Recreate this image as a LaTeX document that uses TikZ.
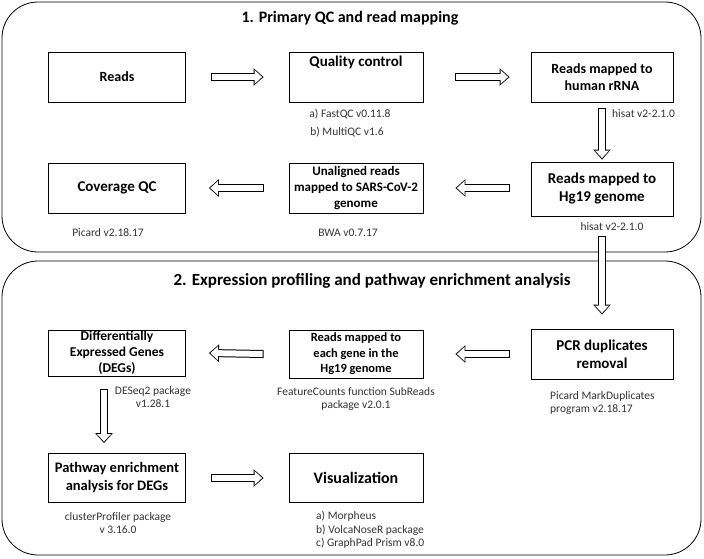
\documentclass[tikz,border=0pt]{standalone}
\usepackage{fontspec}
\setmainfont{Carlito}
\usetikzlibrary{arrows.meta}
\tikzset{
  stepbox/.style={draw, line width=0.8pt, align=center, inner sep=1pt,
    font=\bfseries\fontsize{14}{17}\selectfont},
  midtext/.style={font=\bfseries\fontsize{15}{18}\selectfont},
  bigtext/.style={font=\bfseries\fontsize{16}{19}\selectfont},
  lbl/.style={align=center, inner sep=0pt, font=\fontsize{11.5}{13.5}\selectfont, text=black!80},
  paneltitle/.style={font=\bfseries\fontsize{16.5}{19}\selectfont},
  % hollow block arrow: white arrow drawn over a wider black one
  fatarrow/.style={white, line width=6pt, shorten <=1pt, shorten >=1.5pt,
    -{Triangle[length=7.6pt, width=13.6pt]},
    preaction={draw, black, line width=8pt, shorten <=0pt, shorten >=0pt,
      -{Triangle[length=10pt, width=17pt]}}}
}
\begin{document}
\begin{tikzpicture}[x=1pt, y=-1pt]
        \useasboundingbox (0,0) rectangle (704,558);
        \draw[line width=0.8pt, rounded corners=36pt] (2,2) rectangle (701,252);
        \draw[line width=0.8pt, rounded corners=36pt] (2,261) rectangle (701,555);
        \node [paneltitle, font=\bfseries\fontsize{16}{19}\selectfont] (title1) at (350,18) {1. Primary QC and read mapping};
        \node [paneltitle, font=\bfseries\fontsize{17}{20}\selectfont] (title2) at (372,281) {2. Expression profiling and pathway enrichment analysis};
        % first panel
        \node [stepbox, minimum width=137pt, minimum height=50pt] (reads) at (117,77) {Reads};
        \node [stepbox, midtext, minimum width=134pt, minimum height=50pt] (qc) at (356,77) {Quality control\\[14pt]\mbox{}};
        \node [stepbox, minimum width=142pt, minimum height=50pt] (rrna) at (602,77) {Reads mapped to\\human rRNA};
        \node [stepbox, midtext, minimum width=137pt, minimum height=50pt] (cov) at (117,188) {Coverage QC};
        \node [stepbox, font=\bfseries\fontsize{13}{16}\selectfont, minimum width=134pt, minimum height=50pt] (unal) at (356,188) {Unaligned reads\\mapped to SARS-CoV-2\\genome};
        \node [stepbox, midtext, minimum width=142pt, minimum height=54pt] (hg) at (602,189) {Reads mapped to\\Hg19 genome};
        \node [lbl] (fastqc) at (350,114) {a) FastQC v0.11.8};
        \node [lbl] (multiqc) at (347,132) {b) MultiQC v1.6};
        \node [lbl, anchor=west] (hisat1) at (612,114) {hisat v2-2.1.0};
        \node [lbl] (picard1) at (108,233) {Picard v2.18.17};
        \node [lbl] (bwa) at (348,233) {BWA v0.7.17};
        \node [lbl] (hisat2) at (612,227) {hisat v2-2.1.0};
        % second panel
        \node [stepbox, font=\bfseries\fontsize{13.5}{16}\selectfont, minimum width=137pt, minimum height=46pt] (deg) at (117,353) {Differentially\\Expressed Genes\\(DEGs)};
        \node [stepbox, font=\bfseries\fontsize{12.5}{15.5}\selectfont, minimum width=134pt, minimum height=48pt] (each) at (356,354) {Reads mapped to\\each gene in the\\Hg19 genome};
        \node [stepbox, midtext, minimum width=142pt, minimum height=50pt] (pcr) at (602,354) {PCR duplicates\\removal};
        \node [stepbox, font=\bfseries\fontsize{14.5}{18}\selectfont, minimum width=137pt, minimum height=49pt] (path) at (117,478) {Pathway enrichment\\analysis for DEGs};
        \node [stepbox, bigtext, minimum width=134pt, minimum height=49pt] (vis) at (356,478) {Visualization};
        \node [lbl] (deseq) at (153,397) {DESeq2 package\\v1.28.1};
        \node [lbl] (fcounts) at (356,399) {FeatureCounts function SubReads\\package v2.0.1};
        \node [lbl, align=left, anchor=west] (picard2) at (550,403) {Picard MarkDuplicates\\program v2.18.17};
        \node [lbl] (cprof) at (118,523) {clusterProfiler package\\v 3.16.0};
        \node [lbl, align=left, anchor=west] (tools) at (316,530) {a) Morpheus\\b) VolcaNoseR package\\c) GraphPad Prism v8.0};
        % block arrows
        \draw [fatarrow] ([xshift=25pt]reads.east) -- ([xshift=-25pt]qc.west);
        \draw [fatarrow] ([xshift=32pt]qc.east) -- ([xshift=-21pt]rrna.west);
        \draw [fatarrow] ([yshift=-6pt]rrna.south) -- ([yshift=2pt]hg.north);
        \draw [fatarrow] ([xshift=-21pt, yshift=1pt]hg.west) -- ([xshift=32pt]unal.east);
        \draw [fatarrow] ([xshift=-25pt]unal.west) -- ([xshift=23pt]cov.east);
        \draw [fatarrow] ([yshift=-20pt]hg.south) -- ([yshift=14pt]pcr.north);
        \draw [fatarrow] ([xshift=-21pt]pcr.west) -- ([xshift=32pt]each.east);
        \draw [fatarrow] ([xshift=-25pt]each.west) -- ([xshift=23pt]deg.east);
        \draw [fatarrow] ([xshift=-13pt, yshift=-13pt]deg.south) -- ([xshift=-13pt, yshift=10pt]path.north);
        \draw [fatarrow] ([xshift=25pt]path.east) -- ([xshift=-25pt]vis.west);
      \end{tikzpicture}
\end{document}
